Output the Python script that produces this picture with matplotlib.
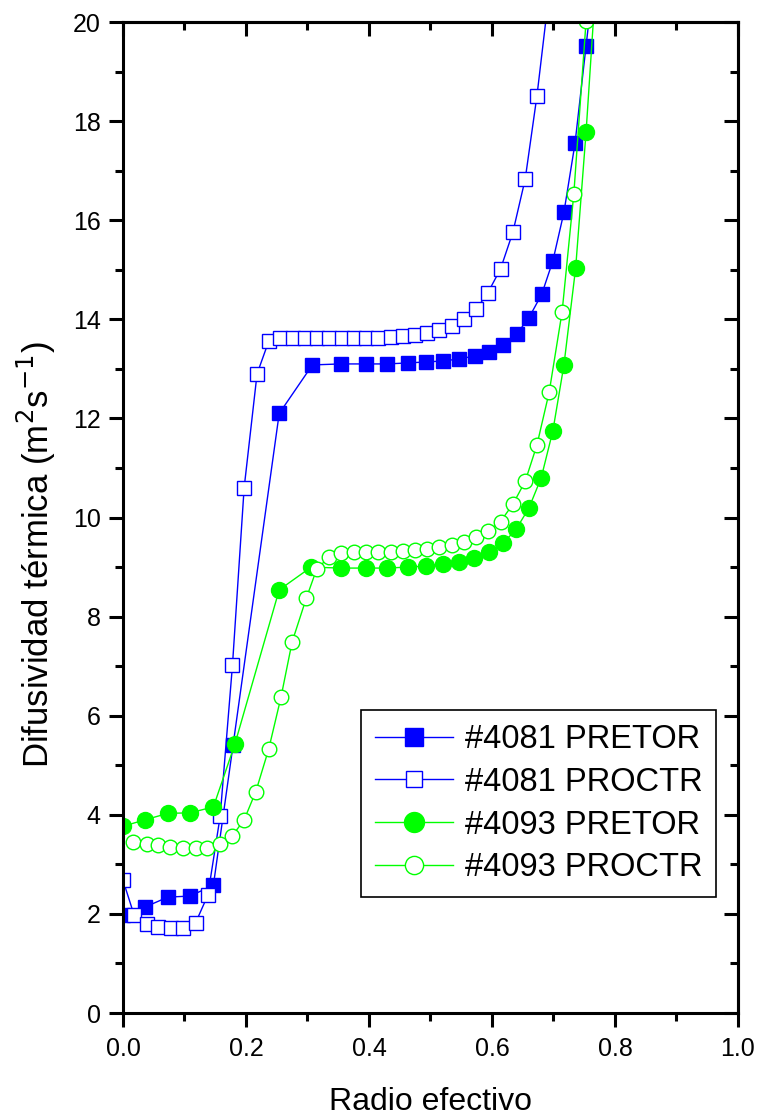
import matplotlib
matplotlib.use("Agg")
import matplotlib.pyplot as plt
from matplotlib.ticker import MultipleLocator

plt.rcParams["font.family"] = ["Liberation Sans", "DejaVu Sans"]

# #4081 PRETOR (filled squares)
x_4081_pretor = [0.0, 0.036, 0.073, 0.109, 0.147, 0.179, 0.254, 0.308, 0.354, 0.395,
                 0.429, 0.463, 0.493, 0.521, 0.546, 0.572, 0.595, 0.618, 0.640, 0.660,
                 0.681, 0.699, 0.717, 0.735, 0.753, 0.772]
y_4081_pretor = [1.97, 2.14, 2.34, 2.36, 2.58, 5.41, 12.1, 13.08, 13.1, 13.1,
                 13.1, 13.12, 13.14, 13.16, 13.2, 13.26, 13.34, 13.48, 13.70, 14.03,
                 14.51, 15.18, 16.16, 17.55, 19.52, 21.6]

# #4081 PROCTR (open squares)
x_4081_proctr = [0.0, 0.018, 0.039, 0.057, 0.078, 0.098, 0.118, 0.138, 0.158, 0.178,
                 0.197, 0.218, 0.237, 0.255, 0.276, 0.296, 0.316, 0.335, 0.356, 0.376,
                 0.395, 0.415, 0.436, 0.455, 0.475, 0.494, 0.514, 0.535, 0.554, 0.574,
                 0.593, 0.614, 0.634, 0.654, 0.673, 0.693]
y_4081_proctr = [2.68, 1.98, 1.80, 1.74, 1.72, 1.71, 1.82, 2.38, 3.97, 7.02,
                 10.6, 12.9, 13.56, 13.62, 13.62, 13.62, 13.62, 13.62, 13.62, 13.62,
                 13.62, 13.62, 13.64, 13.66, 13.68, 13.72, 13.78, 13.87, 14.0, 14.2,
                 14.53, 15.02, 15.76, 16.83, 18.5, 20.6]

# #4093 PRETOR (filled circles)
x_4093_pretor = [0.0, 0.036, 0.073, 0.109, 0.147, 0.182, 0.254, 0.306, 0.354, 0.395,
                 0.429, 0.463, 0.493, 0.521, 0.546, 0.571, 0.595, 0.618, 0.639, 0.660,
                 0.680, 0.699, 0.717, 0.736, 0.753, 0.770]
y_4093_pretor = [3.77, 3.90, 4.03, 4.04, 4.16, 5.43, 8.54, 9.0, 8.98, 8.98,
                 8.98, 9.0, 9.02, 9.06, 9.1, 9.18, 9.3, 9.48, 9.76, 10.19,
                 10.8, 11.75, 13.08, 15.03, 17.78, 21.0]

# #4093 PROCTR (open circles)
x_4093_proctr = [0.016, 0.039, 0.057, 0.077, 0.098, 0.118, 0.137, 0.157, 0.178, 0.197,
                 0.216, 0.237, 0.257, 0.275, 0.298, 0.315, 0.335, 0.355, 0.376, 0.395,
                 0.415, 0.436, 0.455, 0.475, 0.494, 0.514, 0.535, 0.554, 0.574, 0.593,
                 0.614, 0.634, 0.654, 0.673, 0.693, 0.714, 0.733, 0.753, 0.772]
y_4093_proctr = [3.45, 3.42, 3.39, 3.35, 3.33, 3.33, 3.33, 3.42, 3.58, 3.90,
                 4.47, 5.33, 6.38, 7.49, 8.37, 8.96, 9.2, 9.28, 9.3, 9.3,
                 9.3, 9.3, 9.32, 9.34, 9.36, 9.4, 9.44, 9.5, 9.6, 9.72,
                 9.92, 10.27, 10.73, 11.46, 12.53, 14.15, 16.52, 20.02, 24.0]

labels = ["#4081 PRETOR", "#4081 PROCTR", "#4093 PRETOR", "#4093 PROCTR"]

BLUE = "#0000ff"
GREEN = "#00ff00"

fig = plt.figure(figsize=(7.63, 11.19), dpi=100)
ax = fig.add_axes([0.1612, 0.0947, 0.806, 0.8856])

ax.plot(x_4081_pretor, y_4081_pretor, color=BLUE, lw=1.0, marker="s", ms=10.5,
        mfc=BLUE, mec=BLUE, label=labels[0])
ax.plot(x_4081_proctr, y_4081_proctr, color=BLUE, lw=1.0, marker="s", ms=9.5,
        mfc="white", mec=BLUE, mew=1.0, label=labels[1])
ax.plot(x_4093_pretor, y_4093_pretor, color=GREEN, lw=1.0, marker="o", ms=11.5,
        mfc=GREEN, mec=GREEN, label=labels[2])
ax.plot(x_4093_proctr, y_4093_proctr, color=GREEN, lw=1.0, marker="o", ms=10.5,
        mfc="white", mec=GREEN, mew=1.0, label=labels[3])

ax.set_xlim(0.0, 1.0)
ax.set_ylim(0, 20)
ax.xaxis.set_major_locator(MultipleLocator(0.2))
ax.xaxis.set_minor_locator(MultipleLocator(0.1))
ax.yaxis.set_major_locator(MultipleLocator(2))
ax.yaxis.set_minor_locator(MultipleLocator(1))
ax.xaxis.set_major_formatter(plt.FuncFormatter(lambda v, p: f"{v:.1f}"))

for s in ax.spines.values():
    s.set_linewidth(2.2)
ax.tick_params(which="major", direction="out", length=10, width=2.2,
               labelsize=18)
ax.tick_params(which="minor", direction="out", length=5.5, width=2.2)
ax.tick_params(axis="x", pad=7)
ax.tick_params(axis="y", pad=6)

# inward ticks on top and right
top = ax.secondary_xaxis("top")
top.xaxis.set_major_locator(MultipleLocator(0.2))
top.xaxis.set_minor_locator(MultipleLocator(0.1))
top.tick_params(which="major", direction="in", length=10, width=2.2, labeltop=False)
top.tick_params(which="minor", direction="in", length=5.5, width=2.2)
top.spines["top"].set_linewidth(2.2)
right = ax.secondary_yaxis("right")
right.yaxis.set_major_locator(MultipleLocator(2))
right.yaxis.set_minor_locator(MultipleLocator(1))
right.tick_params(which="major", direction="in", length=10, width=2.2, labelright=False)
right.tick_params(which="minor", direction="in", length=5.5, width=2.2)
right.spines["right"].set_linewidth(2.2)

ax.set_xlabel("Radio efectivo", fontsize=23, labelpad=19)
ax.set_ylabel("Difusividad térmica (m$^{2}$s$^{-1}$)", fontsize=25)
ax.yaxis.set_label_coords(-0.106, 0.463)

leg = ax.legend(loc="lower right", bbox_to_anchor=(0.964, 0.117), borderaxespad=0,
                fontsize=23.5, fancybox=False, framealpha=1, edgecolor="black",
                handlelength=2.4, labelspacing=0.36, handletextpad=0.35,
                borderpad=0.42, markerscale=1.25)
leg.get_frame().set_linewidth(1.2)

fig.savefig("out.png", dpi=100)
